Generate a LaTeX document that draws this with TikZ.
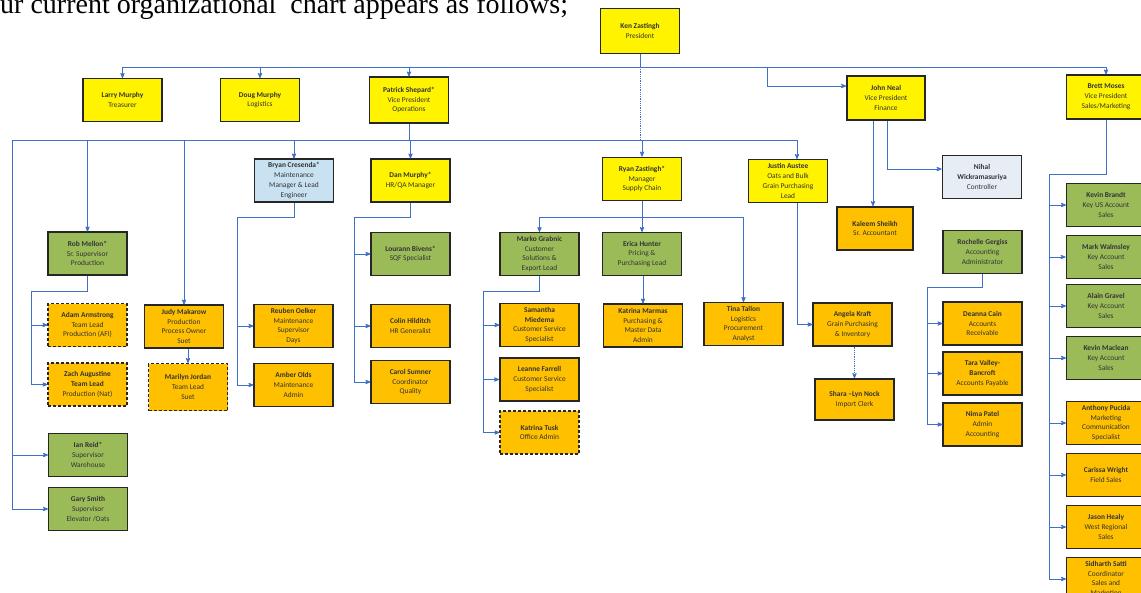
\documentclass[tikz,border=0pt]{standalone}
\usepackage{fontspec}
\newfontfamily\boxfont{Carlito}
\newfontfamily\headfont{Liberation Serif}
\usepackage{tikz}
\usetikzlibrary{arrows, positioning}
\definecolor{vpyellow}{RGB}{255,243,0}
\definecolor{staffgold}{RGB}{255,192,0}
\definecolor{leadgreen}{RGB}{155,187,89}
\definecolor{engblue}{RGB}{200,226,242}
\definecolor{ctrlblue}{RGB}{230,237,245}
\definecolor{linkblue}{RGB}{62,112,200}
\tikzset{
>=stealth', % small solid arrow heads
node distance=52pt, % centre to centre distance in the columns
box/.style={draw=black!85, line width=1.1pt, minimum width=79pt, minimum height=43pt, inner sep=1pt, align=center, font=\boxfont\fontsize{7.4}{9.8}\selectfont, text=black!80}, % every position in the chart
vp/.style={box, fill=vpyellow}, % officers and managers
staff/.style={box, fill=staffgold}, % staff
lead/.style={box, fill=leadgreen}, % leads and supervisors
strong/.style={line width=1.8pt}, % heavier frame
open/.style={dashed, dash pattern=on 3pt off 2pt}, % vacant or temporary
link/.style={draw=linkblue, line width=0.8pt}, % reporting lines
arr/.style={link, ->}, % reporting line into a box
}
\begin{document}
\begin{tikzpicture}[x=1pt, y=-1pt]
      \clip (0,0) rectangle (1141,592);
      \fill[white] (0,0) rectangle (1141,592);
      \node[anchor=base west, inner sep=0pt, font=\headfont\fontsize{28}{28}\selectfont] (head) at (0,13) {ur current organizational\ \ chart appears as follows;};

      % top level
      \node[vp, strong, minimum height=45pt] (ken) at (640,31) {\textbf{Ken Zastingh}\\President};
      \node[vp] (larry) at (122.5,100) {\textbf{Larry Murphy}\\Treasurer};
      \node[vp] (doug) at (260,100) {\textbf{Doug Murphy}\\Logistics};
      \node[vp, minimum height=46pt] (patrick) at (409,100) {\textbf{Patrick Shepard*}\\Vice President\\Operations};
      \node[vp, strong, minimum width=78pt, minimum height=44pt] (john) at (886,98) {\textbf{John Neal}\\Vice President\\Finance};
      \node[vp, minimum height=44pt] (brett) at (1106,97) {\textbf{Brett Moses}\\Vice President\\Sales/Marketing};

      % operations
      \node[lead] (rob) at (87.5,253.5) {\textbf{Rob Mellon*}\\Sr. Supervisor\\Production};
      \node[staff, open] (adam) at (87.5,325) {\textbf{Adam Armstrong}\\Team Lead\\Production (AFI)};
      \node[staff, open, below of=adam, yshift=-7.5pt] (zach) {\textbf{Zach Augustine}\\\textbf{Team Lead}\\Production (Nat)};
      \node[lead] (ian) at (88,455) {\textbf{Ian Reid*}\\Supervisor\\Warehouse};
      \node[lead, below of=ian, yshift=-2pt] (gary) {\textbf{Gary Smith}\\Supervisor\\Elevator /Oats};
      \node[staff] (judy) at (184,326.5) {\textbf{Judy Makarow}\\Production\\Process Owner\\Suet};
      \node[staff, open, minimum height=47pt] (marilyn) at (188,387) {\textbf{Marilyn Jordan}\\Team Lead\\Suet};
      \node[box, fill=engblue] (bryan) at (294,180.5) {\textbf{Bryan Cresenda*}\\Maintenance\\Manager \& Lead\\Engineer};
      \node[staff] (reuben) at (293.5,326) {\textbf{Reuben Oelker}\\Maintenance\\Supervisor\\Days};
      \node[staff, below of=reuben, yshift=-7pt] (amber) {\textbf{Amber Olds}\\Maintenance\\Admin};
      \node[vp] (dan) at (410.5,180.5) {\textbf{Dan Murphy*}\\HR/QA Manager};
      \node[lead] (lourann) at (410.5,254) {\textbf{Lourann Bivens*}\\SQF Specialist};
      \node[staff, below of=lourann, yshift=-20pt] (colin) {\textbf{Colin Hilditch}\\HR Generalist};
      \node[staff, below of=colin, yshift=-4pt] (carol) {\textbf{Carol Sumner}\\Coordinator\\Quality};

      % supply chain
      \node[vp, strong] (ryan) at (642,179) {\textbf{Ryan Zastingh*}\\Manager\\Supply Chain};
      \node[lead] (marko) at (539.5,254) {\textbf{Marko Grabnic}\\Customer\\Solutions \&\\Export Lead};
      \node[lead] (erica) at (642,254) {\textbf{Erica Hunter}\\Pricing \&\\Purchasing Lead};
      \node[staff] (tina) at (743.5,324) {\textbf{Tina Tallon}\\Logistics\\Procurement\\Analyst};
      \node[staff] (samantha) at (539.5,325) {\textbf{Samantha}\\\textbf{Miedema}\\Customer Service\\Specialist};
      \node[staff, strong, below of=samantha, yshift=-2.5pt] (leanne) {\textbf{Leanne Farrell}\\Customer Service\\Specialist};
      \node[staff, open, below of=leanne, yshift=-1pt] (katrinat) {\textbf{Katrina Tusk}\\Office Admin};
      \node[staff] (katrinam) at (643,325.5) {\textbf{Katrina Marmas}\\Purchasing \&\\Master Data\\Admin};
      \node[vp] (justin) at (788,181) {\textbf{Justin Austee}\\Oats and Bulk\\Grain Purchasing\\Lead};
      \node[staff] (angela) at (852.5,324.5) {\textbf{Angela Kraft}\\Grain Purchasing\\\& Inventory};
      \node[staff, strong, minimum height=41pt] (shara) at (854.5,399.5) {\textbf{Shara –Lyn Nock}\\Import Clerk};

      % finance
      \node[box, strong, fill=ctrlblue] (nihal) at (982,177) {\textbf{Nihal}\\\textbf{Wickramasuriya}\\Controller};
      \node[staff, strong, minimum width=76pt] (kaleem) at (875,228.5) {\textbf{Kaleem Sheikh}\\Sr. Accountant};
      \node[lead] (rochelle) at (982.5,252) {\textbf{Rochelle Gergiss}\\Accounting\\Administrator};
      \node[staff] (deanna) at (982.5,323.5) {\textbf{Deanna Cain}\\Accounts\\Receivable};
      \node[staff, below of=deanna, yshift=2pt] (tara) {\textbf{Tara Valley-}\\\textbf{Bancroft}\\Accounts Payable};
      \node[staff, below of=tara, yshift=1pt] (nima) {\textbf{Nima Patel}\\Admin\\Accounting};

      % sales and marketing
      \node[lead] (kevinb) at (1106,205) {\textbf{Kevin Brandt}\\Key US Account\\Sales};
      \node[lead, strong, below of=kevinb] (markw) {\textbf{Mark Walmsley}\\Key Account\\Sales};
      \node[lead, below of=markw, yshift=3pt] (alain) {\textbf{Alain Gravel}\\Key Account\\Sales};
      \node[lead, below of=alain] (kevinm) {\textbf{Kevin Maclean}\\Key Account\\Sales};
      \node[staff, below of=kevinm, yshift=-13pt] (anthony) {\textbf{Anthony Pucida}\\Marketing\\Communication\\Specialist};
      \node[staff, below of=anthony] (carissa) {\textbf{Carissa Wright}\\Field Sales};
      \node[staff, below of=carissa] (jason) {\textbf{Jason Healy}\\West Regional\\Sales};
      \node[staff, below of=jason] (sidharth) {\textbf{Sidharth Satti}\\Coordinator\\Sales and\\Marketing};

      % lines from the president
      \coordinate (topbus) at (640,67);
      \draw[link] (ken) -- (topbus);
      \draw[link] (larry.north |- topbus) -- (brett.north |- topbus);
      \foreach \n in {larry,doug,patrick,brett}
        \draw[arr] (\n.north |- topbus) -- (\n.north);
      \draw[arr] (767,67) |- ([yshift=12pt]john.west);

      % operations
      \coordinate (opsbus) at (409,140);
      \draw[link, densely dotted] (topbus) -- (topbus |- opsbus);
      \draw[link] (patrick) -- (opsbus);
      \draw[link] (12,140) -- (797,140);
      \foreach \n in {ian,gary}
        \draw[arr] (12,140) |- (\n.west);
      \foreach \n in {rob,judy,bryan,dan,ryan}
        \draw[arr] (\n.north |- opsbus) -- (\n.north);
      \draw[arr] (797,140) -- (797,140 |- justin.north);

      \coordinate (robbus) at (31,291);
      \draw[link] (rob.south) |- (robbus);
      \foreach \n in {adam,zach}
        \draw[arr] (robbus) |- (\n.west);
      \draw[arr] (marilyn.north |- judy.south) -- (marilyn.north);

      \coordinate (engbus) at (237,217);
      \draw[link] (bryan.south) |- (engbus);
      \foreach \n in {reuben,amber}
        \draw[arr] (engbus) |- (\n.west);

      \coordinate (hrbus) at (354,217);
      \draw[link] (dan.south) |- (hrbus);
      \foreach \n in {lourann,colin,carol}
        \draw[arr] (hrbus) |- (\n.west);

      % supply chain
      \coordinate (scbus) at (642,217);
      \draw[link] (ryan.south) -- (scbus);
      \draw[link] (marko.north |- scbus) -- (tina.north |- scbus);
      \foreach \n in {marko,erica,tina}
        \draw[arr] (\n.north |- scbus) -- (\n.north);

      \coordinate (csbus) at (483,291);
      \draw[link] (marko.south) |- (csbus);
      \foreach \n in {samantha,leanne,katrinat}
        \draw[arr] (csbus) |- (\n.west);
      \draw[arr] (katrinam.north |- erica.south) -- (katrinam.north);

      \draw[arr] (797,140 |- justin.south) |- (angela.west);
      \draw[arr, densely dotted] (angela.south -| shara.north) -- (shara.north);

      % finance
      \draw[arr] (873,120 |- john.south) -- (873,120 |- kaleem.north);
      \draw[arr] ([xshift=1pt]john.south) |- ([yshift=8pt]nihal.west);

      \coordinate (acbus) at (927,287);
      \draw[link] (rochelle.south) |- (acbus);
      \foreach \n in {deanna,tara,nima}
        \draw[arr] (acbus) |- (\n.west);

      % sales and marketing
      \coordinate (salesbus) at (1049,174);
      \draw[link] (brett.south) |- (salesbus);
      \foreach \n in {kevinb,markw,alain,kevinm,anthony,carissa,jason,sidharth}
        \draw[arr] (salesbus) |- (\n.west);
    \end{tikzpicture}
\end{document}
